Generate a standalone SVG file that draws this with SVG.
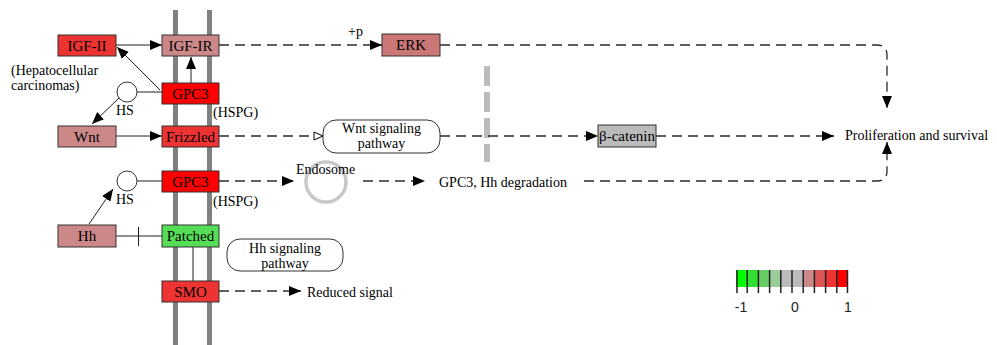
<svg xmlns="http://www.w3.org/2000/svg" width="997" height="345" viewBox="0 0 997 345" font-family="'Liberation Serif', 'Times New Roman', serif">
  <style>
    text { font-family: "Liberation Serif", "Times New Roman", serif; font-size: 14px; fill: #000; }
    .lbl { text-anchor: middle; font-size: 15px; }
    .two { text-anchor: middle; font-size: 14px; }
    .node { stroke: #333; stroke-width: 1; }
    .red { fill: #ee3333; }
    .bright { fill: #ff0000; }
    .pink { fill: #cc8888; }
    .erk { fill: #cc7777; }
    .green { fill: #55dd55; }
    .grey { fill: #bbbbbb; }
    .memb { stroke: #808080; stroke-width: 5; }
    .solid { stroke: #222; stroke-width: 1; fill: none; }
    .dash { stroke: #2a2a2a; stroke-width: 1.3; fill: none; stroke-dasharray: 10 6; }
    .pill { fill: #fff; stroke: #333; stroke-width: 1; }
    .hs { fill: #fff; stroke: #333; stroke-width: 1; }
    .legend { font-family: "Liberation Sans", Arial, sans-serif; font-size: 14px; fill: #222; }
  </style>
  <defs>
    <marker id="arrow" markerUnits="userSpaceOnUse" markerWidth="12" markerHeight="10" refX="12" refY="5" orient="auto">
      <path d="M0,0 L12,5 L0,10 z" fill="#000"/>
    </marker>
    <marker id="open" markerUnits="userSpaceOnUse" markerWidth="11" markerHeight="10" refX="10" refY="5" orient="auto">
      <path d="M1,1 L10,5 L1,9 z" fill="#fff" stroke="#000" stroke-width="1"/>
    </marker>
  </defs>

  <rect width="997" height="345" fill="#fff"/>

  <!-- cell membrane -->
  <g id="membrane">
    <line class="memb" x1="175.5" y1="10" x2="175.5" y2="345"/>
    <line class="memb" x1="209.5" y1="10" x2="209.5" y2="345"/>
  </g>

  <!-- endosome and barrier marks -->
  <g id="endosome">
    <circle cx="326" cy="182" r="20" fill="none" stroke="#c8c8c8" stroke-width="3.5"/>
  </g>
  <g id="barrier">
    <line x1="487" y1="66" x2="487" y2="162" stroke="#bbbbbb" stroke-width="6" stroke-dasharray="20 6"/>
  </g>

  <!-- connectors -->
  <g id="connectors">
    <line class="solid" x1="116" y1="45" x2="162" y2="45" marker-end="url(#arrow)"/>
    <line class="dash" x1="219" y1="45" x2="382" y2="45" marker-end="url(#arrow)"/>
    <path class="dash" d="M440,45 H877 Q887,45 887,55 V108" marker-end="url(#arrow)"/>
    <line class="solid" x1="191" y1="83" x2="191" y2="57" marker-end="url(#arrow)"/>
    <line class="solid" x1="160" y1="90" x2="117" y2="47" marker-end="url(#arrow)"/>
    <line class="solid" x1="137" y1="92" x2="162" y2="92"/>
    <line class="solid" x1="119" y1="98" x2="92" y2="124" marker-end="url(#arrow)"/>
    <line class="solid" x1="116" y1="136" x2="162" y2="136" marker-end="url(#arrow)"/>
    <line class="dash" x1="219" y1="136" x2="323" y2="136" marker-end="url(#open)"/>
    <line class="dash" x1="440" y1="136" x2="598" y2="136" marker-end="url(#arrow)"/>
    <line class="dash" x1="656" y1="136" x2="834" y2="136" marker-end="url(#arrow)"/>
    <line class="dash" x1="219" y1="181" x2="294" y2="181" marker-end="url(#arrow)"/>
    <line class="dash" x1="363" y1="181" x2="425" y2="181" marker-end="url(#arrow)"/>
    <path class="dash" d="M584,181 H877 Q887,181 887,171 V142" marker-end="url(#arrow)"/>
    <line class="solid" x1="137" y1="181" x2="162" y2="181"/>
    <line class="solid" x1="89" y1="224" x2="113" y2="189" marker-end="url(#arrow)"/>
    <line class="solid" x1="116" y1="236" x2="162" y2="236"/>
    <line class="solid" x1="138.5" y1="227" x2="138.5" y2="246"/>
    <line class="solid" x1="193" y1="247" x2="193" y2="281"/>
    <line class="dash" x1="219" y1="291" x2="301" y2="291" marker-end="url(#arrow)"/>
  </g>

  <!-- gene products -->
  <g id="igf2"><rect class="node red" x="58" y="35" width="58" height="21"/><text class="lbl" x="87" y="51">IGF-II</text></g>
  <g id="igf1r"><rect class="node pink" x="162" y="35" width="57" height="21"/><text class="lbl" x="190.5" y="51">IGF-IR</text></g>
  <g id="erk"><rect class="node erk" x="382" y="34" width="58" height="22"/><text class="lbl" x="411" y="50">ERK</text></g>
  <g id="gpc3a"><rect class="node bright" x="162" y="83" width="57" height="21"/><text class="lbl" x="190.5" y="99">GPC3</text></g>
  <g id="wnt"><rect class="node pink" x="58" y="126" width="58" height="21"/><text class="lbl" x="87" y="142">Wnt</text></g>
  <g id="frizzled"><rect class="node red" x="162" y="126" width="57" height="21"/><text class="lbl" x="190.5" y="142">Frizzled</text></g>
  <g id="catenin"><rect class="node grey" x="598" y="125" width="58" height="22"/><text class="lbl" x="627" y="141" font-size="14">β-catenin</text></g>
  <g id="gpc3b"><rect class="node bright" x="162" y="171" width="57" height="21"/><text class="lbl" x="190.5" y="187">GPC3</text></g>
  <g id="hh"><rect class="node pink" x="58" y="225" width="58" height="22"/><text class="lbl" x="87" y="241">Hh</text></g>
  <g id="patched"><rect class="node green" x="162" y="225" width="57" height="22"/><text class="lbl" x="190.5" y="241">Patched</text></g>
  <g id="smo"><rect class="node red" x="162" y="281" width="57" height="21"/><text class="lbl" x="190.5" y="297">SMO</text></g>

  <!-- heparan sulfate chains -->
  <g id="hs1"><circle class="hs" cx="127" cy="92" r="10"/><text x="116" y="115">HS</text></g>
  <g id="hs2"><circle class="hs" cx="127" cy="181" r="10"/><text x="116" y="204">HS</text></g>

  <!-- pathway links -->
  <g id="wnt-pathway"><rect class="pill" x="323" y="120" width="117" height="33" rx="13"/><text class="two" x="381.5" y="133">Wnt signaling</text><text class="two" x="381.5" y="148">pathway</text></g>
  <g id="hh-pathway"><rect class="pill" x="227" y="239" width="116" height="32" rx="13"/><text class="two" x="285" y="253">Hh signaling</text><text class="two" x="285" y="268">pathway</text></g>

  <!-- free labels -->
  <g id="labels">
    <text x="11" y="75">(Hepatocellular</text>
    <text x="11" y="90">carcinomas)</text>
    <text x="213" y="117">(HSPG)</text>
    <text x="213" y="206">(HSPG)</text>
    <text x="348" y="36">+p</text>
    <text x="296" y="174">Endosome</text>
    <text x="439" y="187">GPC3, Hh degradation</text>
    <text x="845" y="140">Proliferation and survival</text>
    <text x="307" y="297">Reduced signal</text>
  </g>

  <!-- expression colour key -->
  <g id="legend">
    <rect x="736" y="270" width="11.2" height="17" fill="#00ff00"/>
    <rect x="747.2" y="270" width="11.2" height="17" fill="#33dd33"/>
    <rect x="758.4" y="270" width="11.2" height="17" fill="#66cc66"/>
    <rect x="769.6" y="270" width="11.2" height="17" fill="#99cc99"/>
    <rect x="780.8" y="270" width="11.2" height="17" fill="#bbbbbb"/>
    <rect x="792" y="270" width="11.2" height="17" fill="#bbbbbb"/>
    <rect x="803.2" y="270" width="11.2" height="17" fill="#cc8888"/>
    <rect x="814.4" y="270" width="11.2" height="17" fill="#dd5555"/>
    <rect x="825.6" y="270" width="11.2" height="17" fill="#ee3333"/>
    <rect x="836.8" y="270" width="11.2" height="17" fill="#ff0000"/>
    <g stroke="#222" stroke-width="1.5">
      <line x1="737" y1="270" x2="737" y2="293"/>
      <line x1="747.2" y1="270" x2="747.2" y2="293"/>
      <line x1="758.4" y1="270" x2="758.4" y2="293"/>
      <line x1="769.6" y1="270" x2="769.6" y2="293"/>
      <line x1="780.8" y1="270" x2="780.8" y2="293"/>
      <line x1="792" y1="270" x2="792" y2="293"/>
      <line x1="803.2" y1="270" x2="803.2" y2="293"/>
      <line x1="814.4" y1="270" x2="814.4" y2="293"/>
      <line x1="825.6" y1="270" x2="825.6" y2="293"/>
      <line x1="836.8" y1="270" x2="836.8" y2="293"/>
      <line x1="847.5" y1="270" x2="847.5" y2="293"/>
    </g>
    <text class="legend" x="741" y="312" text-anchor="middle">-1</text>
    <text class="legend" x="795" y="312" text-anchor="middle">0</text>
    <text class="legend" x="848" y="312" text-anchor="middle">1</text>
  </g>
</svg>
